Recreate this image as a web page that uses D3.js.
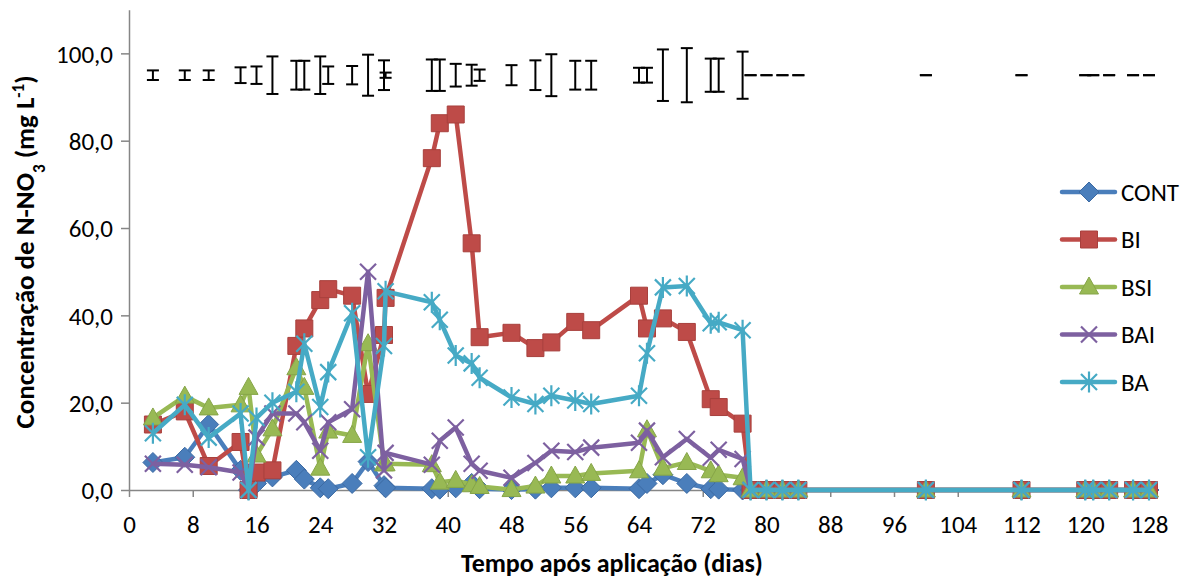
<!DOCTYPE html>
<html>
<head>
<meta charset="utf-8">
<script src="https://cdn.jsdelivr.net/npm/d3@7"></script>
<style>
  body { margin: 0; background: #fff; }
  svg { display: block; }
  text { font-family: Carlito, Lato, "Liberation Sans", sans-serif; fill: #000; }
</style>
</head>
<body>
<script>
// sampling days (x) shared by every series
const days = [3, 7, 10, 14, 15, 16, 18, 21, 22, 24, 25, 28, 30, 32, 32.2, 38, 39, 41, 43, 44,
  48, 51, 53, 56, 58, 64, 65, 67, 70, 73, 74, 77, 78, 80, 82, 84, 100, 112, 120, 121, 123, 126, 128];
const zeroTail = [0, 0, 0, 0, 0, 0, 0, 0, 0, 0, 0];

const CONT = [6.3, 7.5, 15, 4.5, 0, 1.5, 3, 4.5, 2.5, 0.5, 0.3, 1.5, 6.5, 1, 0.5, 0.3, 0.2, 0.5, 1.5, 0.3,
  0.1, 0.2, 0.5, 0.5, 0.5, 0.3, 1.5, 3.5, 1.5, 0.3, 0.2, 0, ...zeroTail];
const BI = [15, 18, 5.5, 11, 0, 4, 4.5, 33, 37, 43.5, 46, 44.5, 22, 35.5, 44, 76, 84, 86, 56.5, 35,
  36, 32.5, 33.8, 38.5, 36.6, 44.5, 37, 39.3, 36.2, 20.8, 19, 15.2, ...zeroTail];
const BSI = [16.5, 21.5, 18.8, 19.5, 23.5, 8, 14, 28, 23.5, 5, 13.5, 12.5, 33.5, 6, 6, 5.8, 1.8, 2.2, 1.2, 0.8,
  0.1, 0.9, 3.2, 3.2, 3.8, 4.4, 13.8, 5, 6.3, 4.4, 3.5, 2.8, ...zeroTail];
const BAI = [6, 5.8, 5.2, 4, 0, 12, 17.5, 17.5, 15.5, 9, 15.5, 18.5, 50, 4.5, 8.5, 5.8, 11.3, 14.3, 6, 4.4,
  2.8, 6.2, 9, 8.7, 9.7, 10.8, 13.6, 7.5, 11.7, 7.4, 9.2, 7.1, ...zeroTail];
const BA = [13, 19.5, 12, 17.5, 0, 16.5, 20, 22.5, 33.5, 19, 27, 40.5, 7.5, 33, 45.5, 43, 39, 30.8, 29, 25.7,
  21.2, 19.7, 21.6, 20.5, 19.7, 21.6, 31.3, 46.4, 46.7, 38.2, 38.4, 36.6, ...zeroTail];

// error bars drawn at the top of the chart (centre 95)
const ebDays = [3, 7, 10, 14, 16, 18, 21, 22, 24, 25, 28, 30, 32, 32.2, 38, 39, 41, 43, 44, 48, 51, 53,
  56, 58, 64, 65, 67, 70, 73, 74, 77, 78, 80, 82, 84, 100, 112, 120, 121, 123, 126, 128];
const ebHalf = [1.1, 1.1, 1.1, 1.8, 2.0, 4.3, 3.3, 3.3, 4.3, 2.0, 2.1, 4.7, 3.4, 0.6, 3.6, 3.6, 2.6, 2.4, 1.3, 2.3, 3.4, 4.8,
  3.3, 3.3, 1.7, 1.7, 5.9, 6.2, 3.8, 3.8, 5.4, 0, 0, 0, 0, 0, 0, 0, 0, 0, 0, 0];
const ebCenter = 95;

const xTicks = d3.range(0, 129, 8);
const yTicks = [0, 20, 40, 60, 80, 100];

const width = 1188;
const height = 580;

const x = d3.scaleLinear().domain([0, 128]).range([129, 1149]);
const y = d3.scaleLinear().domain([0, 110]).range([490, 9.7]);

const shapes = {
  diamond: 'M0,-10L10,0L0,10L-10,0Z',
  square: 'M-8.5,-8.5h17v17h-17Z',
  triangle: 'M0,-10L9.5,7L-9.5,7Z',
  cross: 'M-8,-8L8,8M8,-8L-8,8',
  star: 'M-8,-8L8,8M8,-8L-8,8M0,-10.5L0,10.5',
};

const series = [
  { name: 'CONT', values: CONT, color: '#4A7EBB', edge: '#3C6AA3', shape: 'diamond', filled: true },
  { name: 'BI', values: BI, color: '#BE4B48', edge: '#A8403D', shape: 'square', filled: true },
  { name: 'BSI', values: BSI, color: '#98B954', edge: '#86A548', shape: 'triangle', filled: true },
  { name: 'BAI', values: BAI, color: '#7D60A0', edge: '#7D60A0', shape: 'cross', filled: false },
  { name: 'BA', values: BA, color: '#46AAC5', edge: '#46AAC5', shape: 'star', filled: false },
];

const svg = d3.select('body').append('svg').attr('width', width).attr('height', height);

// axes
const fmt = (v) => d3.format('.1f')(v).replace('.', ',');
const yAxis = svg.append('g')
  .attr('transform', `translate(${x(0)},0)`)
  .call(d3.axisLeft(y).tickValues(yTicks).tickFormat(fmt).tickSize(8).tickSizeOuter(0));
yAxis.selectAll('text').attr('x', -16).attr('dy', '0.35em').style('font-size', '25px');

const xAxis = svg.append('g')
  .attr('transform', `translate(0,${y(0)})`)
  .call(d3.axisBottom(x).tickValues(xTicks).tickSize(7).tickSizeOuter(0));
xAxis.selectAll('text').attr('y', 34).attr('dy', '0.35em').style('font-size', '25px');

svg.selectAll('.domain, .tick line').attr('stroke', '#868686').attr('stroke-width', 1.5);

// series
const line = d3.line().x((d) => x(d[0])).y((d) => y(d[1]));
const drawMarker = (sel, s) => sel
  .attr('d', shapes[s.shape])
  .attr('fill', s.filled ? s.color : 'none')
  .attr('stroke', s.edge)
  .attr('stroke-width', s.filled ? 1 : 2.2);

series.forEach((s) => {
  const pts = days.map((d, i) => [d, s.values[i]]);
  const g = svg.append('g');
  g.append('path')
    .attr('d', line(pts))
    .attr('fill', 'none')
    .attr('stroke', s.color)
    .attr('stroke-width', 4.5)
    .attr('stroke-linejoin', 'round');
  g.selectAll('path.mk')
    .data(pts)
    .enter()
    .append('path')
    .attr('class', 'mk')
    .attr('transform', (d) => `translate(${x(d[0])},${y(d[1])})`)
    .call(drawMarker, s);
});

// error bars
const eb = svg.append('g').attr('stroke', '#000').attr('stroke-width', 2);
ebDays.forEach((d, i) => {
  const cx = x(d);
  const y1 = y(ebCenter + ebHalf[i]);
  const y2 = y(ebCenter - ebHalf[i]);
  eb.append('line').attr('x1', cx).attr('x2', cx).attr('y1', y1).attr('y2', y2);
  eb.append('line').attr('x1', cx - 6).attr('x2', cx + 6).attr('y1', y1).attr('y2', y1);
  eb.append('line').attr('x1', cx - 6).attr('x2', cx + 6).attr('y1', y2).attr('y2', y2);
});

// legend
const legend = svg.append('g').attr('transform', 'translate(1062,192)');
series.forEach((s, i) => {
  const row = legend.append('g').attr('transform', `translate(0,${i * 47.5})`);
  row.append('line')
    .attr('x1', 0).attr('x2', 53)
    .attr('stroke', s.color).attr('stroke-width', 4.5).attr('stroke-linecap', 'round');
  row.append('path').attr('transform', 'translate(27,0)').call(drawMarker, s);
  row.append('text').attr('x', 59).attr('dy', '0.35em').style('font-size', '25px').text(s.name);
});

// axis titles
svg.append('text')
  .attr('x', 612).attr('y', 563).attr('dy', '0.35em')
  .attr('text-anchor', 'middle')
  .style('font-size', '26px').style('font-weight', 'bold')
  .text('Tempo após aplicação (dias)');

const yt = svg.append('text')
  .attr('transform', 'translate(25,252) rotate(-90)')
  .attr('text-anchor', 'middle').attr('dy', '0.35em')
  .style('font-size', '27px').style('font-weight', 'bold');
yt.append('tspan').text('Concentração de N-NO');
yt.append('tspan').attr('baseline-shift', 'sub').style('font-size', '17px').text('3');
yt.append('tspan').text(' (mg L');
yt.append('tspan').attr('baseline-shift', 'super').style('font-size', '17px').text('-1');
yt.append('tspan').text(')');
</script>
</body>
</html>
